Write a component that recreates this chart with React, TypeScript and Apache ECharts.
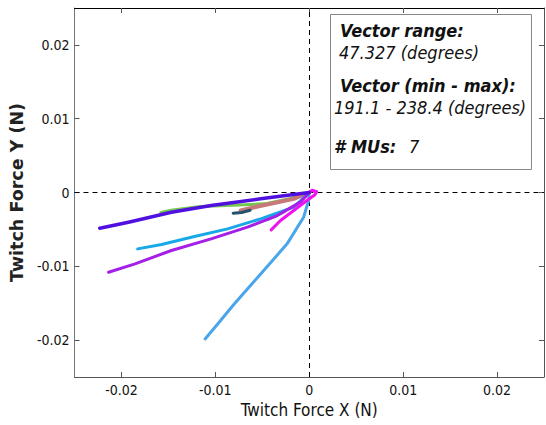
import React, { useEffect, useRef } from "react";
import * as echarts from "echarts";

const xTicks = [-0.02, -0.01, 0, 0.01, 0.02];
const yTicks = [-0.02, -0.01, 0, 0.01, 0.02];

const muGreen = [[-0.0158, -0.0027], [-0.0147, -0.0024], [-0.0116, -0.0019], [-0.0075, -0.0017], [-0.0045, -0.0015], [-0.002, -0.0008], [0, 0]];
const muRosy = [[-0.0073, -0.00244], [-0.0055, -0.0019], [-0.0041, -0.00153], [-0.00165, -0.00086], [0, 0]];
const muDark = [[-0.0081, -0.0028], [-0.0072, -0.0027], [-0.0063, -0.0024]];
const muLavender = [[-0.0045, -0.0037], [-0.0036, -0.0032], [-0.0026, -0.0026]];
const muLightBlue = [[-0.01109, -0.01984], [-0.00975, -0.01781], [-0.00799, -0.0151], [-0.00517, -0.01103], [-0.00236, -0.00696], [-0.0006, -0.00335], [-0.00007, -0.00108], [0, 0]];
const muCyan = [[-0.01827, -0.00764], [-0.01573, -0.00705], [-0.01222, -0.00597], [-0.00869, -0.00493], [-0.00517, -0.00357], [-0.00165, -0.00199], [0, 0]];
const muPurple = [[-0.02137, -0.0108], [-0.01855, -0.00967], [-0.01468, -0.00786], [-0.01045, -0.00628], [-0.00658, -0.0047], [-0.00341, -0.00312], [-0.00095, -0.00131], [0, 0]];
const muMagenta = [[-0.00405, -0.00506], [-0.00306, -0.0038], [-0.00165, -0.00244], [-0.00025, -0.00108], [0.0006, -0.0003], [0.0008, 0.0001], [0.0003, 0.0003], [0, 0]];
const muIndigo = [[-0.02231, -0.00484], [-0.01925, -0.00402], [-0.01468, -0.00267], [-0.01045, -0.00176], [-0.00517, -0.00086], [0, 0]];

const seriesDefs: [number[][], string, number][] = [
  [muGreen, "#74c850", 3],
  [muRosy, "#c87878", 4],
  [muDark, "#24506a", 3],
  [muLavender, "#b8a4f0", 3],
  [muLightBlue, "#4aa6ea", 3],
  [muCyan, "#18a8e8", 3],
  [muPurple, "#a420e8", 3],
  [muMagenta, "#f010f0", 3],
  [muIndigo, "#5010e0", 3.5],
];

const fmt = (v: number) => (v === 0 ? "0" : v.toFixed(2));
const COND = "DejaVu Sans Condensed";

export default function App() {
  const ref = useRef<HTMLDivElement>(null);
  useEffect(() => {
    const chart = echarts.init(ref.current!, null, { renderer: "svg" });
    const series: any[] = seriesDefs.map(([data, color, w], i) => ({
      type: "line",
      data,
      showSymbol: false,
      symbol: "none",
      lineStyle: { color, width: w, cap: "round", join: "round" },
      z: 3 + i,
      ...(i === 0
        ? {
            markLine: {
              silent: true,
              symbol: ["none", "none"],
              label: { show: false },
              lineStyle: { color: "#000", type: [5, 4], width: 1 },
              data: [{ xAxis: 0 }, { yAxis: 0 }],
              z: 1,
            },
          }
        : {}),
    }));
    const axisCommon = {
      type: "value",
      min: -0.025,
      max: 0.025,
      splitLine: { show: false },
      axisTick: { show: true, inside: true, length: 5, lineStyle: { color: "#555" } },
    };
    chart.setOption({
      animation: false,
      backgroundColor: "#fff",
      grid: { left: 72, right: 2, top: 8, bottom: 48 },
      xAxis: [
        {
          ...axisCommon,
          position: "bottom",
          axisLine: { show: true, onZero: false, lineStyle: { color: "#555" } },
          axisTick: { ...axisCommon.axisTick, customValues: xTicks },
          axisLabel: { customValues: xTicks, formatter: fmt, margin: 6, fontFamily: COND, fontSize: 14, color: "#111" },
          name: "Twitch Force X (N)",
          nameLocation: "middle",
          nameGap: 24,
          nameTextStyle: { fontFamily: COND, fontSize: 17, color: "#111" },
        },
        {
          ...axisCommon,
          position: "top",
          axisLine: { show: true, onZero: false, lineStyle: { color: "#000" } },
          axisTick: { ...axisCommon.axisTick, customValues: xTicks },
          axisLabel: { show: false },
        },
      ],
      yAxis: [
        {
          ...axisCommon,
          position: "left",
          axisLine: { show: true, onZero: false, lineStyle: { color: "#777" } },
          axisTick: { ...axisCommon.axisTick, customValues: yTicks },
          axisLabel: { customValues: yTicks, formatter: fmt, margin: 5, fontFamily: COND, fontSize: 14, color: "#111" },
          name: "Twitch Force Y (N)",
          nameLocation: "middle",
          nameGap: 36,
          nameRotate: 90,
          nameTextStyle: { fontFamily: "DejaVu Sans", fontWeight: "bold", fontSize: 17.5, color: "#222" },
        },
        {
          ...axisCommon,
          position: "right",
          axisLine: { show: true, onZero: false, lineStyle: { color: "#555" } },
          axisTick: { ...axisCommon.axisTick, customValues: yTicks },
          axisLabel: { show: false },
        },
      ],
      series,
      graphic: [
        {
          type: "rect",
          shape: { x: 330.5, y: 14.5, width: 201, height: 155 },
          style: { fill: "#fff", stroke: "#888", lineWidth: 1 },
          z: 100,
        },
        ...[
          ["Vector range:", 340, 30, "bold"],
          ["47.327 (degrees)", 339, 52, "normal"],
          ["Vector (min - max):", 340, 85, "bold"],
          ["191.1 - 238.4 (degrees)", 334, 107, "normal"],
          ["# MUs:", 334, 146, "bold"],
          ["7", 409, 146, "normal"],
        ].map(([t, x, y, w]) => ({
          type: "text",
          x,
          y,
          z: 101,
          style: {
            text: t,
            fontFamily: COND,
            fontStyle: "italic",
            fontWeight: w,
            fontSize: 18,
            fill: "#111",
            verticalAlign: "middle",
            align: "left",
          },
        })),
      ],
    });
    return () => chart.dispose();
  }, []);
  return <div ref={ref} style={{ position: "fixed", left: 0, top: 0, width: 546, height: 425 }} />;
}
